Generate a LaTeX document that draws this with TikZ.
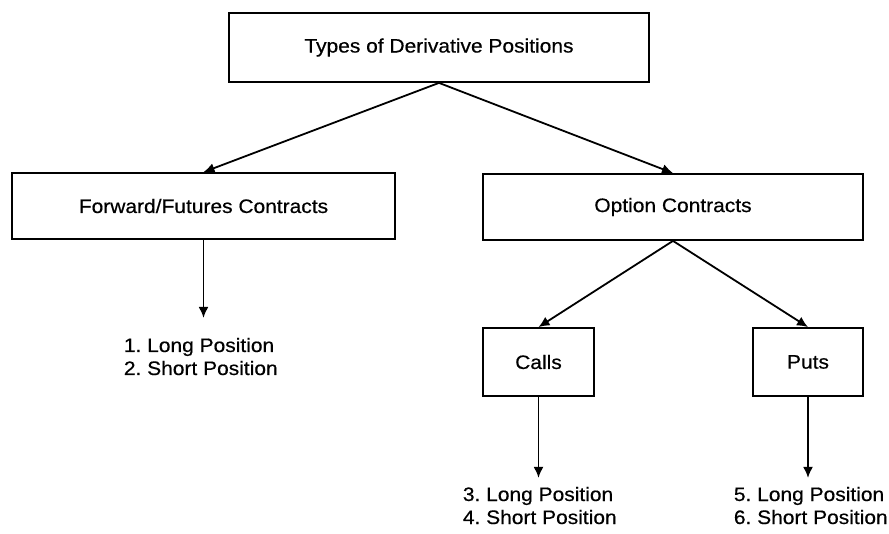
\documentclass[tikz,border=0pt]{standalone}
\usepackage{fontspec}
\setmainfont{Liberation Sans}[FakeStretch=1.075, FakeBold=0.5]
\usetikzlibrary{arrows.meta}

\begin{document}
\frenchspacing
\begin{tikzpicture}[x=1pt, y=-1pt, line width=1.8pt,
  font=\fontsize{19.5}{23}\selectfont,
  PosBox/.style={draw, inner sep=0pt, align=center},
  PosList/.style={anchor=base west, align=left, inner sep=0pt},
  PosArrow/.style={-{Latex[length=11pt, width=10pt]}}]
\useasboundingbox (0,0) rectangle (889,534);
\foreach \name/\x/\y/\w/\h/\txt in {
  top/439/47.5/420/69/{Types of Derivative Positions},
  fwd/203.5/206/383/66/{Forward/Futures Contracts},
  opt/673/207/380/66/{Option Contracts},
  calls/538.5/362/111/68/{Calls},
  puts/808/362/110/68/{Puts}%
} {
  \node [PosBox, minimum width=\w pt, minimum height=\h pt] (\name) at (\x, \y) {\txt};
}
% position lists under the boxes (placed by their last baseline)
\node [PosList] (fwdList) at (123, 375) {1. Long Position\\2. Short Position};
\node [PosList] (callsList) at (462, 524) {3. Long Position\\4. Short Position};
\node [PosList] (putsList) at (733, 524) {5. Long Position\\6. Short Position};
\path (fwd.south) ++(0, 78) coordinate (fwdEnd);
\path (calls.south) ++(0, 81) coordinate (callsEnd);
\path (puts.south) ++(0, 81) coordinate (putsEnd);
\foreach \from/\to in {top.south/fwd.north, top.south/opt.north,
  opt.south/calls.north, opt.south/puts.north,
  fwd.south/fwdEnd, calls.south/callsEnd, puts.south/putsEnd} {
  \draw [PosArrow] (\from) -- (\to);
}
\end{tikzpicture}
\end{document}
